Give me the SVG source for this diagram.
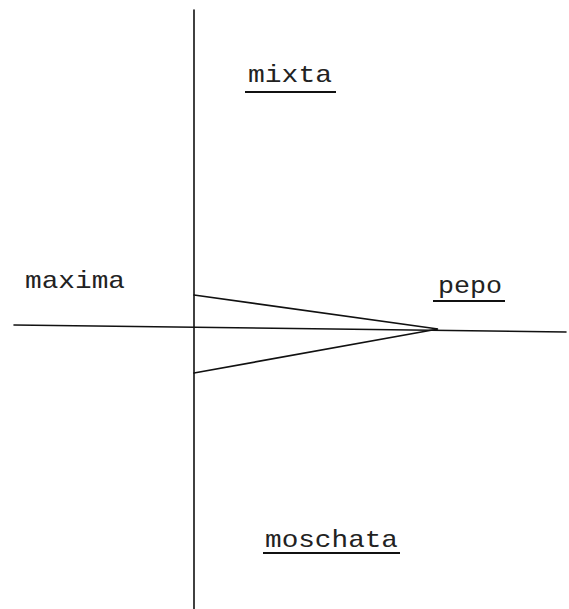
<svg xmlns="http://www.w3.org/2000/svg" width="569" height="609" viewBox="0 0 569 609">
<style>
.ln{stroke:#111;stroke-width:1.6;fill:none;stroke-linecap:round}
.ul{stroke:#111;stroke-width:2.2;fill:none}
.lbl{font-family:"Liberation Mono","DejaVu Sans Mono",monospace;font-size:24px;fill:#222}
</style>
<rect width="569" height="609" fill="#fff"/>
<g id="connectors">
<line class="ln" x1="194" y1="10" x2="194" y2="609"/>
<line class="ln" x1="14" y1="325" x2="566" y2="332"/>
<polyline class="ln" points="194,295 438,329 194,373"/>
</g>
<g id="mixta"><text class="lbl" x="248" y="82" textLength="84" lengthAdjust="spacingAndGlyphs">mixta</text><line class="ul" x1="245" y1="92" x2="336" y2="92"/></g>
<g id="maxima"><text class="lbl" x="25" y="288" textLength="100" lengthAdjust="spacingAndGlyphs">maxima</text></g>
<g id="pepo"><text class="lbl" x="438" y="293" textLength="64" lengthAdjust="spacingAndGlyphs">pepo</text><line class="ul" x1="433" y1="301" x2="505" y2="301"/></g>
<g id="moschata"><text class="lbl" x="265" y="547" textLength="133" lengthAdjust="spacingAndGlyphs">moschata</text><line class="ul" x1="263" y1="553" x2="400" y2="553"/></g>
</svg>
